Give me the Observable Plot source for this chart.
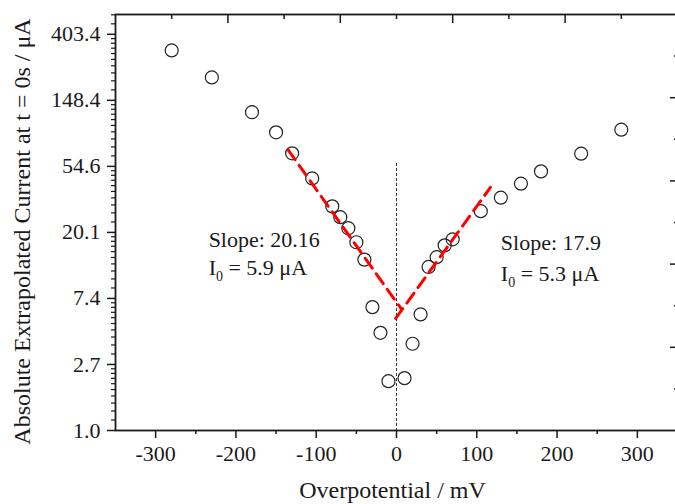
<!DOCTYPE html>
<html><head><meta charset="utf-8">
<script src="https://cdn.jsdelivr.net/npm/d3@7"></script>
<script src="https://cdn.jsdelivr.net/npm/@observablehq/plot@0.6"></script>
<style>
html,body{margin:0;padding:0;background:#fff;overflow:hidden;}
#chart{width:675px;height:504px;overflow:hidden;position:relative;}
#chart svg{max-width:none !important;}
</style></head><body><div id="chart"></div>
<script>
// Data
const overpotential = [-280,-230,-180,-150,-130,-105,-80,-70,-60,-50,-40,-30,-20,-10,10,20,30,40,50,60,70,105,130,155,180,230,280];
const current = [316,210,124,91.4,66.5,45.5,29.8,25.3,21.4,17.3,13.3,6.48,4.39,2.11,2.21,3.72,5.80,11.9,13.8,16.5,18.1,27.7,34.0,42.0,50.6,66.2,95.2];
const cathodicFitX = [-135, 6];
const cathodicFitY = [70, 6.3];
const anodicFitX = [-1, 117];
const anodicFitY = [5.46, 39.7];
const zeroLineY = [57, 1];
const yTickExponents = [0, 1, 2, 3, 4, 5, 6];
const yTickLabels = ["1.0","2.7","7.4","20.1","54.6","148.4","403.4"];
const xTicks = [-300,-200,-100,0,100,200,300];
const xTickLabels = ["-300","-200","-100","0","100","200","300"];
const xMinorTicks = [-250,-150,-50,50,150,250];
const topMajorTicks = [-210,-70,70,210];
const topMinorTicks = [-280,-140,0,140,280];
const rightMajorLn = [1.26,2.52,3.78,5.04];
const rightMinorLn = [0.63,1.89,3.15,4.41,5.67];
const annotX = [-234,-234,130,130];
const annotY = [16.0,10.5,15.3,9.6];
const annotText = ["Slope: 20.16","I0 = 5.9 μA","Slope: 17.9","I0 = 5.3 μA"];
const xTitle = "Overpotential / mV";
const yTitle = "Absolute Extrapolated Current at t = 0s / μA";

const points = overpotential.map((x,i)=>({x, y: current[i]}));
const fitL = cathodicFitX.map((x,i)=>({x, y: cathodicFitY[i]}));
const fitR = anodicFitX.map((x,i)=>({x, y: anodicFitY[i]}));
const annots = annotText.map((t,i)=>({x: annotX[i], y: annotY[i], t}));

const yTickValues = yTickExponents.map(Math.exp);
const yMax = Math.exp(6.3);
// minor ticks: 9 linear subdivisions between successive major ticks
const yMinor = [];
const majorsExt = yTickValues.concat([Math.exp(7)]);
for (let k = 0; k < majorsExt.length - 1; k++) {
  const a = majorsExt[k], b = majorsExt[k+1];
  for (let j = 1; j < 10; j++) { const v = a + (b - a) * j / 10; if (v < yMax) yMinor.push(v); }
}
function nearestLabel(d, values, labels, lg) {
  let best = 0, bd = Infinity;
  values.forEach((v, i) => { const dd = Math.abs(lg ? Math.log(d) - Math.log(v) : d - v); if (dd < bd) { bd = dd; best = i; } });
  return labels[best];
}

const ink = "#1a1a1a";
const font = "'Liberation Serif','Times New Roman',serif";

const plot = Plot.plot({
  width: 690, height: 504,
  marginLeft: 115, marginRight: 13, marginTop: 14, marginBottom: 74,
  style: {fontFamily: font, fontSize: "22px", color: ink, background: "#fff", maxWidth: "none"},
  x: {domain: [-350, 350]},
  y: {type: "log", base: Math.E, domain: [1, yMax]},
  marks: [
    Plot.axisY({anchor: "left", ticks: yTickValues, tickSize: 8, tickPadding: 7, strokeWidth: 1.5,
      tickFormat: d => nearestLabel(d, yTickValues, yTickLabels, true), label: null}),
    Plot.axisY({anchor: "left", ticks: yMinor, tickSize: 4, strokeWidth: 1.2, tickFormat: () => "", label: null}),
    Plot.axisY({anchor: "right", ticks: rightMajorLn.map(Math.exp), tickSize: 8, insetRight: 8, strokeWidth: 1.5, tickFormat: () => "", label: null}),
    Plot.axisY({anchor: "right", ticks: rightMinorLn.map(Math.exp), tickSize: 4, insetRight: 4, strokeWidth: 1.5, tickFormat: () => "", label: null}),
    Plot.axisX({anchor: "bottom", ticks: xTicks, tickSize: 8, tickPadding: 7, strokeWidth: 1.5,
      tickFormat: d => nearestLabel(d, xTicks, xTickLabels, false), label: null}),
    Plot.axisX({anchor: "bottom", ticks: xMinorTicks, tickSize: 4, strokeWidth: 1.5, tickFormat: () => "", label: null}),
    Plot.axisX({anchor: "top", ticks: topMajorTicks, tickSize: 8, insetTop: 8, strokeWidth: 1.5, tickFormat: () => "", label: null}),
    Plot.axisX({anchor: "top", ticks: topMinorTicks, tickSize: 4, insetTop: 4, strokeWidth: 1.5, tickFormat: () => "", label: null}),
    Plot.frame({stroke: ink, strokeWidth: 1.8}),
    Plot.ruleX([0], {y1: zeroLineY[0], y2: zeroLineY[1], stroke: "#333", strokeWidth: 1, strokeDasharray: "3,2"}),
    Plot.dot(points, {x: "x", y: "y", r: 6.5, stroke: "#222", strokeWidth: 1.2, fill: "none"}),
    Plot.line(fitL, {x: "x", y: "y", stroke: "#ff0000", strokeWidth: 3, strokeDasharray: "12,7"}),
    Plot.line(fitR, {x: "x", y: "y", stroke: "#ff0000", strokeWidth: 3, strokeDasharray: "12,7"}),
    Plot.text(annots, {x: "x", y: "y", text: "t", textAnchor: "start", lineAnchor: "bottom", fontSize: 22, fill: ink}),
    Plot.text([xTitle], {frameAnchor: "bottom", textAnchor: "middle", dx: -4, dy: 67, lineAnchor: "bottom", fontSize: 24, fill: ink}),
    Plot.text([yTitle], {frameAnchor: "left", textAnchor: "middle", rotate: -90, dx: -103, dy: 9, lineAnchor: "top", fontSize: 24, fill: ink})
  ]
});
plot.style.maxWidth = "none";

// subscript for I0
d3.select(plot).selectAll("text").each(function() {
  const el = d3.select(this);
  if (el.selectAll("tspan").size() > 0) return;
  const s = el.text();
  if (s.startsWith("I0 ")) {
    el.text(null);
    el.append("tspan").text("I");
    el.append("tspan").attr("font-size", 14).attr("dy", 6).text("0");
    el.append("tspan").attr("dy", -6).text(s.slice(2));
  }
});
document.getElementById("chart").appendChild(plot);
</script></body></html>
